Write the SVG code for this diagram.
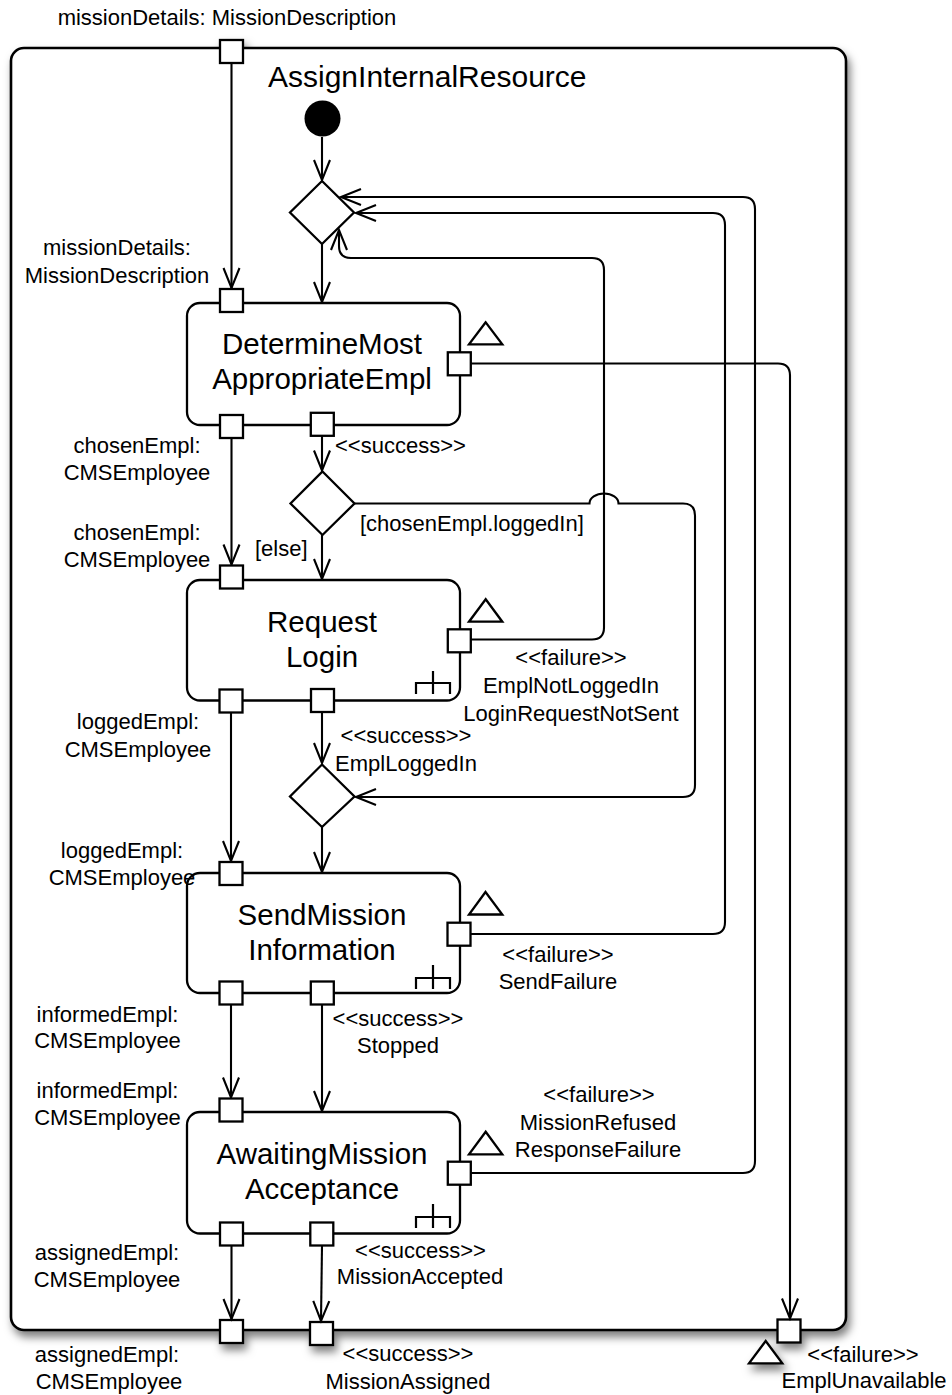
<svg xmlns="http://www.w3.org/2000/svg" width="952" height="1395" viewBox="0 0 952 1395">
<defs>
<style>
text{font-family:"Liberation Sans",Arial,Helvetica,sans-serif;fill:#000}
.lbl{font-size:22px;text-anchor:middle}
.lbs{font-size:22px;text-anchor:start}
.nl{font-size:29.5px;text-anchor:middle}
.title{font-size:30px}
.frame{fill:#fff;stroke:#000;stroke-width:2.6}
.node{fill:#fff;stroke:#000;stroke-width:2.3}
.pin{fill:#fff;stroke:#000;stroke-width:2.3}
.exc{fill:#fff;stroke:#000;stroke-width:2.3;stroke-linejoin:miter}
.dec{fill:#fff;stroke:#000;stroke-width:2.3}
.rake{fill:none;stroke:#000;stroke-width:2.2}
.c{fill:none;stroke:#000;stroke-width:2.1;marker-end:url(#arr)}
</style>
<marker id="arr" markerUnits="userSpaceOnUse" viewBox="-23 -11 26 22" markerWidth="26" markerHeight="22" refX="0" refY="0" orient="auto" overflow="visible">
<path d="M -20 -8 L 0 0 L -20 8" fill="none" stroke="#000" stroke-width="2.1"/>
</marker>
<filter id="sh" x="-5%" y="-5%" width="112%" height="112%">
<feDropShadow dx="3" dy="6" stdDeviation="4" flood-color="#000" flood-opacity="0.5"/>
</filter>
</defs>

<g id="frame" filter="url(#sh)">
<rect class="frame" x="11" y="48" width="835" height="1282" rx="13"/>
<rect class="pin" x="220" y="40" width="23" height="23"/>
<rect class="pin" x="220" y="1320" width="23" height="23"/>
<rect class="pin" x="310" y="1322" width="23" height="23"/>
<rect class="pin" x="777.5" y="1319.5" width="23" height="23"/>
<path class="exc" d="M765.7 1341 L749 1363.3 L782.3 1363.3 Z"/>
</g>
<text class="title" x="268" y="87">AssignInternalResource</text>

<g id="connectors">
<path class="c" d="M322 137 V180"/>
<path class="c" d="M231.5 63 V288"/>
<path class="c" d="M322 244 V302"/>
<path class="c" d="M322 435.5 V470.5"/>
<path class="c" d="M322 535 V579"/>
<path class="c" d="M231.5 438 V564.5"/>
<path class="c" d="M322 712 V763"/>
<path class="c" d="M322 827 V872"/>
<path class="c" d="M231 712 V861"/>
<path class="c" d="M322 1004.5 V1111"/>
<path class="c" d="M231 1004.5 V1097.5"/>
<path class="c" d="M231.5 1245.5 V1319"/>
<path class="c" d="M322 1245.5 L321 1321"/>
<path class="c" d="M470.8 1173 H743 Q755 1173 755 1161 V209 Q755 197 743 197 H341"/>
<path class="c" d="M470.5 934 H713 Q725 934 725 922 V225 Q725 213 713 213 H356"/>
<path class="c" d="M470.8 639.5 H592 Q604 639.5 604 627.5 V270 Q604 258 592 258 H351 Q339 258 339 246 V230"/>
<path class="c" d="M470.8 363.5 H778 Q790 363.5 790 375.5 V1318.5"/>
<path class="c" d="M354.5 503.5 H589.5 A14.5 10 0 0 1 618.5 503.5 H683 Q695 503.5 695 515.5 V785 Q695 797 683 797 H356"/>
</g>

<g id="initial">
<circle cx="322.5" cy="118.5" r="18" fill="#000"/>
</g>
<g id="decision1"><path class="dec" d="M322 181 L354 212.5 L322 244 L290 212.5 Z"/></g>
<g id="decision2"><path class="dec" d="M322.5 471.5 L354.5 503.5 L322.5 535 L290.5 503.5 Z"/></g>
<g id="decision3"><path class="dec" d="M322 764.5 L354.5 796.5 L322 827 L290 796.5 Z"/></g>

<g id="DetermineMostAppropriateEmpl">
<rect class="node" x="187" y="303" width="273" height="122" rx="13"/>
<text class="nl" x="322" y="354">DetermineMost</text>
<text class="nl" x="322" y="389">AppropriateEmpl</text>
<rect class="pin" x="220" y="289" width="23" height="23"/>
<rect class="pin" x="220" y="415" width="23" height="23"/>
<rect class="pin" x="310.8" y="412.8" width="23" height="23"/>
<rect class="pin" x="447.8" y="352.3" width="23" height="23"/>
<path class="exc" d="M485.7 322.3 L469 344.3 L502.3 344.3 Z"/>
</g>

<g id="RequestLogin">
<rect class="node" x="187" y="580" width="273" height="120.5" rx="13"/>
<text class="nl" x="322" y="632">Request</text>
<text class="nl" x="322" y="667">Login</text>
<rect class="pin" x="220" y="565.5" width="23" height="23"/>
<rect class="pin" x="219.5" y="689.5" width="23" height="23"/>
<rect class="pin" x="311" y="689" width="23" height="23"/>
<rect class="pin" x="447.8" y="629.3" width="23" height="23"/>
<path class="exc" d="M485.7 599.3 L469 621.7 L502.3 621.7 Z"/>
<path class="rake" d="M416 694 V683 H450 V694 M433 671 V694"/>
</g>

<g id="SendMissionInformation">
<rect class="node" x="187" y="873" width="273" height="120" rx="13"/>
<text class="nl" x="322" y="925">SendMission</text>
<text class="nl" x="322" y="960">Information</text>
<rect class="pin" x="219.5" y="862" width="23" height="23"/>
<rect class="pin" x="219.5" y="981.5" width="23" height="23"/>
<rect class="pin" x="310.8" y="981.5" width="23" height="23"/>
<rect class="pin" x="447.5" y="922.7" width="23" height="23"/>
<path class="exc" d="M485.5 892 L469 914.5 L502.3 914.5 Z"/>
<path class="rake" d="M416 989 V978 H450 V989 M433 965 V989"/>
</g>

<g id="AwaitingMissionAcceptance">
<rect class="node" x="187" y="1112" width="273" height="121.5" rx="13"/>
<text class="nl" x="322" y="1164">AwaitingMission</text>
<text class="nl" x="322" y="1199">Acceptance</text>
<rect class="pin" x="219.5" y="1098.5" width="23" height="23"/>
<rect class="pin" x="220" y="1222.5" width="23" height="23"/>
<rect class="pin" x="310.3" y="1222.5" width="23" height="23"/>
<rect class="pin" x="447.8" y="1161.7" width="23" height="23"/>
<path class="exc" d="M485.7 1131.7 L469 1154.3 L502.3 1154.3 Z"/>
<path class="rake" d="M416 1228 V1217 H450 V1228 M433 1204 V1228"/>
</g>

<g id="labels">
<text class="lbl" x="227" y="25">missionDetails: MissionDescription</text>
<text class="lbl" x="117" y="255">missionDetails:</text>
<text class="lbl" x="117" y="283">MissionDescription</text>
<text class="lbl" x="137" y="453">chosenEmpl:</text>
<text class="lbl" x="137" y="480">CMSEmployee</text>
<text class="lbs" x="335" y="453">&lt;&lt;success&gt;&gt;</text>
<text class="lbs" x="360" y="531">[chosenEmpl.loggedIn]</text>
<text class="lbl" x="137" y="540">chosenEmpl:</text>
<text class="lbl" x="137" y="567">CMSEmployee</text>
<text class="lbs" x="255" y="556">[else]</text>
<text class="lbl" x="571" y="665">&lt;&lt;failure&gt;&gt;</text>
<text class="lbl" x="571" y="693">EmplNotLoggedIn</text>
<text class="lbl" x="571" y="721">LoginRequestNotSent</text>
<text class="lbl" x="138" y="729">loggedEmpl:</text>
<text class="lbl" x="138" y="757">CMSEmployee</text>
<text class="lbl" x="406" y="743">&lt;&lt;success&gt;&gt;</text>
<text class="lbl" x="406" y="771">EmplLoggedIn</text>
<text class="lbl" x="122" y="858">loggedEmpl:</text>
<text class="lbl" x="122" y="885">CMSEmployee</text>
<text class="lbl" x="558" y="962">&lt;&lt;failure&gt;&gt;</text>
<text class="lbl" x="558" y="989">SendFailure</text>
<text class="lbl" x="107.5" y="1022">informedEmpl:</text>
<text class="lbl" x="107.5" y="1048">CMSEmployee</text>
<text class="lbl" x="398" y="1026">&lt;&lt;success&gt;&gt;</text>
<text class="lbl" x="398" y="1053">Stopped</text>
<text class="lbl" x="107.5" y="1098">informedEmpl:</text>
<text class="lbl" x="107.5" y="1125">CMSEmployee</text>
<text class="lbl" x="599" y="1102">&lt;&lt;failure&gt;&gt;</text>
<text class="lbl" x="598" y="1130">MissionRefused</text>
<text class="lbl" x="598" y="1157">ResponseFailure</text>
<text class="lbl" x="107" y="1260">assignedEmpl:</text>
<text class="lbl" x="107" y="1287">CMSEmployee</text>
<text class="lbl" x="420.5" y="1258">&lt;&lt;success&gt;&gt;</text>
<text class="lbl" x="420" y="1284">MissionAccepted</text>
<text class="lbl" x="107" y="1362">assignedEmpl:</text>
<text class="lbl" x="109" y="1389">CMSEmployee</text>
<text class="lbl" x="408" y="1361">&lt;&lt;success&gt;&gt;</text>
<text class="lbl" x="408" y="1389">MissionAssigned</text>
<text class="lbl" x="863" y="1362">&lt;&lt;failure&gt;&gt;</text>
<text class="lbl" x="864" y="1388">EmplUnavailable</text>
</g>
</svg>
